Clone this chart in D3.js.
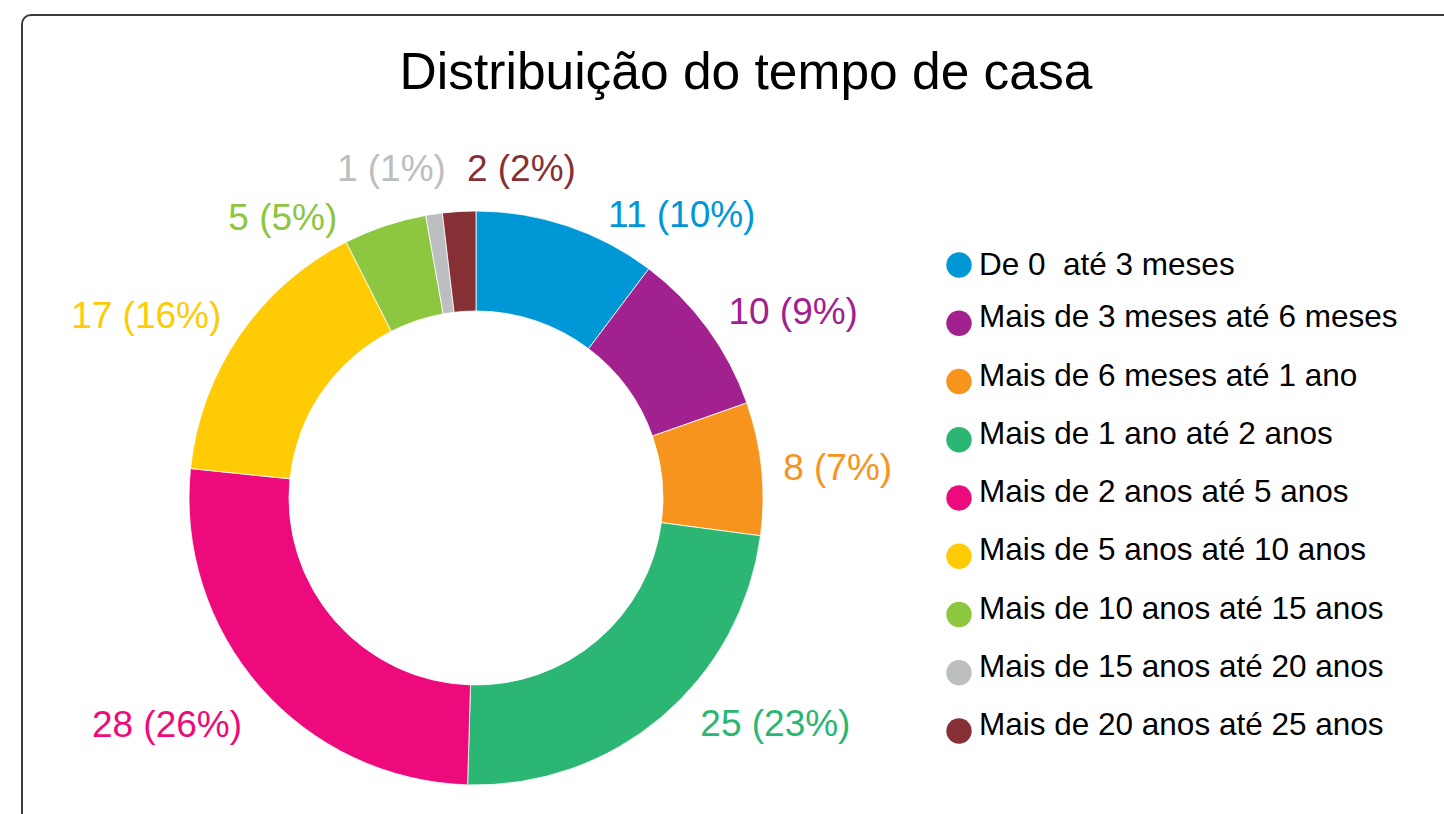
<!DOCTYPE html>
<html lang="pt">
<head>
  <meta charset="UTF-8">
  <title>Distribuição do tempo de casa</title>
  <script src="https://d3js.org/d3.v7.min.js"></script>
  <style>
    html, body { margin: 0; padding: 0; background: #fff; overflow: hidden; }
    svg { display: block; font-family: "Liberation Sans", Arial, sans-serif; }
    .title { font-size: 51.5px; fill: #000; }
    .label { font-size: 37px; }
    .legend-text { font-size: 31.5px; fill: #000; }
  </style>
</head>
<body>
  <svg id="chart" width="1444" height="814"></svg>
  <script>
    // dados
    const categories = [
      "De 0  até 3 meses",
      "Mais de 3 meses até 6 meses",
      "Mais de 6 meses até 1 ano",
      "Mais de 1 ano até 2 anos",
      "Mais de 2 anos até 5 anos",
      "Mais de 5 anos até 10 anos",
      "Mais de 10 anos até 15 anos",
      "Mais de 15 anos até 20 anos",
      "Mais de 20 anos até 25 anos"
    ];
    const values = [11, 10, 8, 25, 28, 17, 5, 1, 2];
    const colors = ["#0097d6", "#a1228f", "#f7941d", "#2bb673", "#ed0a7c",
                    "#ffcb05", "#8dc63f", "#bcbec0", "#862f35"];

    // ajuste dos rótulos (graus somados ao ângulo médio, distância ao centro)
    const labelShift = [17.5, 5.7, 1, -12.6, 5, -5.5, -16, -6, 11.2];
    const labelDist  = [350, 368, 363, 375, 383, 377, 341, 340, 333];

    const svg = d3.select("#chart");
    const cx = 476, cy = 498, outerR = 287, innerR = 187;

    // moldura
    svg.append("rect")
      .attr("x", 22).attr("y", 15)
      .attr("width", 1460).attr("height", 830)
      .attr("rx", 9)
      .attr("fill", "none")
      .attr("stroke", "#3a3a3a")
      .attr("stroke-width", 2);

    svg.append("text")
      .attr("class", "title")
      .attr("x", 746).attr("y", 89)
      .attr("text-anchor", "middle")
      .text("Distribuição do tempo de casa");

    const total = d3.sum(values);
    const pie = d3.pie().sort(null).value(d => d)(values);
    const arc = d3.arc().innerRadius(innerR).outerRadius(outerR);

    const g = svg.append("g").attr("transform", `translate(${cx},${cy})`);

    g.selectAll("path.slice")
      .data(pie)
      .enter()
      .append("path")
      .attr("class", "slice")
      .attr("d", arc)
      .attr("fill", (d, i) => colors[i])
      .attr("stroke", "#fff")
      .attr("stroke-width", 0.8);

    // rótulos fora do anel
    g.selectAll("text.label")
      .data(pie)
      .enter()
      .append("text")
      .attr("class", "label")
      .attr("text-anchor", "middle")
      .attr("dominant-baseline", "central")
      .attr("fill", (d, i) => colors[i])
      .attr("x", (d, i) => {
        const a = (d.startAngle + d.endAngle) / 2 + labelShift[i] * Math.PI / 180;
        return Math.sin(a) * labelDist[i];
      })
      .attr("y", (d, i) => {
        const a = (d.startAngle + d.endAngle) / 2 + labelShift[i] * Math.PI / 180;
        return -Math.cos(a) * labelDist[i];
      })
      .text(d => `${d.data} (${Math.round(d.data / total * 100)}%)`);

    // legenda
    const legendY = d3.scaleLinear().domain([0, categories.length - 1]).range([265, 731]);
    const legend = svg.append("g");
    const rows = legend.selectAll("g")
      .data(categories)
      .enter()
      .append("g")
      .attr("transform", (d, i) => `translate(959,${legendY(i)})`);

    rows.append("circle")
      .attr("r", 12.7)
      .attr("fill", (d, i) => colors[i]);

    rows.append("text")
      .attr("class", "legend-text")
      .attr("x", 20)
      .attr("y", (d, i) => i === 0 ? 10 : 4)
      .attr("xml:space", "preserve")
      .style("white-space", "pre")
      .text(d => d);
  </script>
</body>
</html>
